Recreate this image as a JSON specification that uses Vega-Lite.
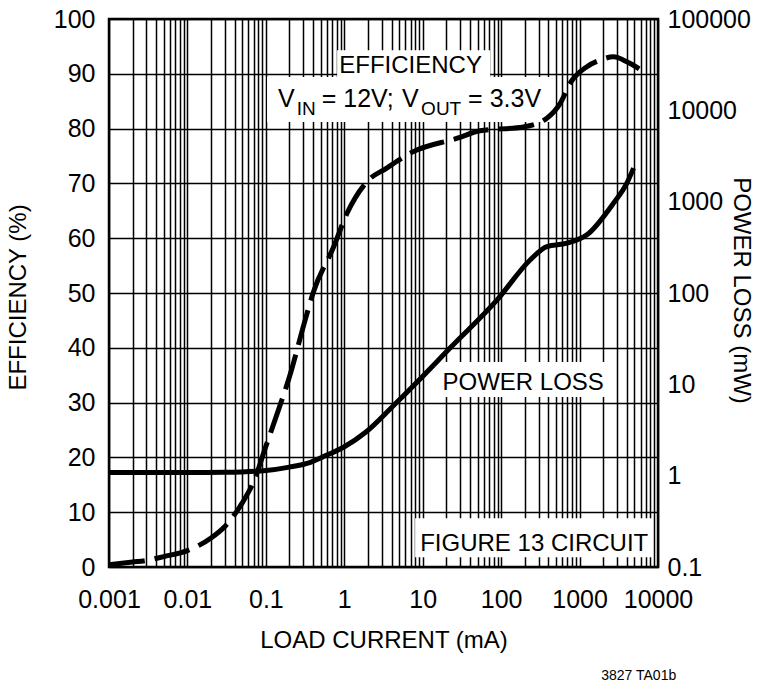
{
  "$schema": "https://vega.github.io/schema/vega-lite/v6.json",
  "description": "Efficiency and power loss vs load current, VIN = 12V, VOUT = 3.3V",
  "width": 549,
  "height": 548,
  "autosize": "none",
  "padding": {"left": 109, "top": 19, "right": 102, "bottom": 122},
  "background": "white",
  "config": {
    "view": {"stroke": "black", "strokeWidth": 2.5},
    "font": "Liberation Sans",
    "axis": {
      "labelFont": "Liberation Sans",
      "labelFontSize": 25,
      "labelColor": "black",
      "titleFont": "Liberation Sans",
      "titleFontSize": 24,
      "titleFontWeight": "normal",
      "titleColor": "black",
      "ticks": false,
      "domain": false,
      "gridColor": "black",
      "gridOpacity": 1,
      "gridWidth": 1.5
    },
    "text": {"font": "Liberation Sans", "color": "black"}
  },
  "datasets": {
    "efficiency": [
      {"current": 0.001, "eff": 0.4},
      {"current": 0.002, "eff": 0.9},
      {"current": 0.003, "eff": 1.2},
      {"current": 0.005, "eff": 1.9},
      {"current": 0.01, "eff": 3.0},
      {"current": 0.02, "eff": 5.3},
      {"current": 0.03, "eff": 7.4},
      {"current": 0.05, "eff": 11.7},
      {"current": 0.07, "eff": 15.6},
      {"current": 0.1, "eff": 22},
      {"current": 0.15, "eff": 29.3},
      {"current": 0.2, "eff": 34.7},
      {"current": 0.316, "eff": 45},
      {"current": 0.4, "eff": 50},
      {"current": 0.73, "eff": 58.4},
      {"current": 1.08, "eff": 64.5},
      {"current": 1.94, "eff": 70.3},
      {"current": 3.48, "eff": 72.8},
      {"current": 7.6, "eff": 75.8},
      {"current": 27, "eff": 78.2},
      {"current": 54, "eff": 79.6},
      {"current": 192, "eff": 80.3},
      {"current": 383, "eff": 81.9},
      {"current": 566, "eff": 84.6},
      {"current": 759, "eff": 88.3},
      {"current": 1240, "eff": 91.3},
      {"current": 1833, "eff": 92.5},
      {"current": 2710, "eff": 93.1},
      {"current": 4010, "eff": 92.2},
      {"current": 5930, "eff": 90.8}
    ],
    "powerloss": [
      {"current": 0.001, "loss": 1.08},
      {"current": 0.01, "loss": 1.08},
      {"current": 0.03, "loss": 1.09},
      {"current": 0.1, "loss": 1.14},
      {"current": 0.2, "loss": 1.24},
      {"current": 0.37, "loss": 1.4},
      {"current": 0.6, "loss": 1.68},
      {"current": 0.99, "loss": 2.06},
      {"current": 1.89, "loss": 3.01},
      {"current": 4.19, "loss": 5.8},
      {"current": 9.27, "loss": 11.46},
      {"current": 22.3, "loss": 25.0},
      {"current": 88.9, "loss": 84},
      {"current": 234, "loss": 230},
      {"current": 383, "loss": 322},
      {"current": 689, "loss": 351},
      {"current": 1240, "loss": 433},
      {"current": 2710, "loss": 964},
      {"current": 4010, "loss": 1596},
      {"current": 4880, "loss": 2330}
    ],
    "boxes": [
      {"x1": 0.81, "x2": 72.4, "y1": 89.4, "y2": 94.3},
      {"x1": 0.1035, "x2": 489, "y1": 81.2, "y2": 89.4},
      {"x1": 15.7, "x2": 2317, "y1": 31.0, "y2": 37.4},
      {"x1": 8.0, "x2": 8430, "y1": 1.8, "y2": 8.9}
    ],
    "notes": [
      {"x": 7.01, "y": 90.15, "text": "EFFICIENCY"},
      {"x": 191, "y": 32.3, "text": "POWER LOSS"},
      {"x": 264, "y": 2.92, "text": "FIGURE 13 CIRCUIT"}
    ],
    "vline": [
      {"x": 0.1432, "y": 83.94, "text": "V", "sub": false},
      {"x": 0.2477, "y": 83.94, "text": "IN", "sub": true},
      {"x": 0.516, "y": 83.94, "text": "= 12V;", "sub": false},
      {"x": 5.46, "y": 83.94, "text": "V", "sub": false},
      {"x": 9.54, "y": 83.94, "text": "OUT", "sub": true},
      {"x": 37.9, "y": 83.94, "text": "= 3.3V", "sub": false}
    ],
    "code": [
      {"x": 1888, "y": -20.6, "text": "3827 TA01b"}
    ]
  },
  "layer": [
    {
      "layer": [
        {
          "data": {"name": "boxes"},
          "mark": {"type": "rect", "fill": "white", "stroke": null},
          "encoding": {
            "x": {"field": "x1", "type": "quantitative", "scale": {"type": "log", "domain": [0.001, 10000]}},
            "x2": {"field": "x2"},
            "y": {"field": "y1", "type": "quantitative", "scale": {"domain": [0, 100]}},
            "y2": {"field": "y2"}
          }
        },
        {
          "data": {"name": "notes"},
          "mark": {"type": "text", "fontSize": 24, "align": "center", "baseline": "alphabetic"},
          "encoding": {
            "x": {"field": "x", "type": "quantitative", "scale": {"type": "log", "domain": [0.001, 10000]}},
            "y": {"field": "y", "type": "quantitative", "scale": {"domain": [0, 100]}},
            "text": {"field": "text"}
          }
        },
        {
          "data": {"name": "vline"},
          "transform": [{"filter": "!datum.sub"}],
          "mark": {"type": "text", "fontSize": 25, "align": "left", "baseline": "alphabetic"},
          "encoding": {
            "x": {"field": "x", "type": "quantitative", "scale": {"type": "log", "domain": [0.001, 10000]}},
            "y": {"field": "y", "type": "quantitative", "scale": {"domain": [0, 100]}},
            "text": {"field": "text"}
          }
        },
        {
          "data": {"name": "vline"},
          "transform": [{"filter": "datum.sub"}],
          "mark": {"type": "text", "fontSize": 19, "align": "left", "baseline": "alphabetic", "dy": 8},
          "encoding": {
            "x": {"field": "x", "type": "quantitative", "scale": {"type": "log", "domain": [0.001, 10000]}},
            "y": {"field": "y", "type": "quantitative", "scale": {"domain": [0, 100]}},
            "text": {"field": "text"}
          }
        },
        {
          "data": {"name": "code"},
          "mark": {"type": "text", "fontSize": 14, "align": "left", "baseline": "alphabetic"},
          "encoding": {
            "x": {"field": "x", "type": "quantitative", "scale": {"type": "log", "domain": [0.001, 10000]}},
            "y": {"field": "y", "type": "quantitative", "scale": {"domain": [0, 100]}},
            "text": {"field": "text"}
          }
        },
        {
          "data": {"name": "efficiency"},
          "mark": {"type": "line", "color": "black", "strokeWidth": 5, "strokeDash": [36, 10], "interpolate": "monotone", "clip": false},
          "encoding": {
            "x": {
              "field": "current",
              "type": "quantitative",
              "scale": {"type": "log", "domain": [0.001, 10000]},
              "axis": {
                "title": "LOAD CURRENT (mA)",
                "grid": true,
                "values": [0.001, 0.002, 0.003, 0.004, 0.005, 0.006, 0.007, 0.008, 0.009,
                           0.01, 0.02, 0.03, 0.04, 0.05, 0.06, 0.07, 0.08, 0.09,
                           0.1, 0.2, 0.3, 0.4, 0.5, 0.6, 0.7, 0.8, 0.9,
                           1, 2, 3, 4, 5, 6, 7, 8, 9,
                           10, 20, 30, 40, 50, 60, 70, 80, 90,
                           100, 200, 300, 400, 500, 600, 700, 800, 900,
                           1000, 2000, 3000, 4000, 5000, 6000, 7000, 8000, 9000, 10000],
                "labelExpr": "indexof([0.001, 0.01, 0.1, 1, 10, 100, 1000, 10000], datum.value) >= 0 ? format(datum.value, '~f') : ''",
                "labelPadding": 20,
                "labelOverlap": false,
                "labelFlush": false,
                "titleY": 80,
                "titleBaseline": "alphabetic"
              }
            },
            "y": {
              "field": "eff",
              "type": "quantitative",
              "scale": {"domain": [0, 100]},
              "axis": {
                "title": "EFFICIENCY (%)",
                "orient": "left",
                "grid": true,
                "values": [0, 10, 20, 30, 40, 50, 60, 70, 80, 90, 100],
                "labelPadding": 14,
                "labelFlush": false,
                "titleAngle": 270,
                "titleX": -84,
                "titleY": 278,
                "titleAlign": "center",
                "titleBaseline": "alphabetic"
              }
            }
          }
        }
      ]
    },
    {
      "data": {"name": "powerloss"},
      "mark": {"type": "line", "color": "black", "strokeWidth": 5, "interpolate": "monotone"},
      "encoding": {
        "x": {"field": "current", "type": "quantitative", "scale": {"type": "log", "domain": [0.001, 10000]}},
        "y": {
          "field": "loss",
          "type": "quantitative",
          "scale": {"type": "log", "domain": [0.1, 100000]},
          "axis": {
            "title": "POWER LOSS (mW)",
            "orient": "right",
            "grid": false,
            "values": [0.1, 1, 10, 100, 1000, 10000, 100000],
            "format": "~f",
            "labelPadding": 9,
            "labelFlush": false,
            "titleAngle": 90,
            "titleX": 75,
            "titleY": 271,
            "titleAlign": "center",
            "titleBaseline": "alphabetic"
          }
        }
      }
    }
  ],
  "resolve": {"scale": {"y": "independent"}, "axis": {"y": "independent"}}
}
